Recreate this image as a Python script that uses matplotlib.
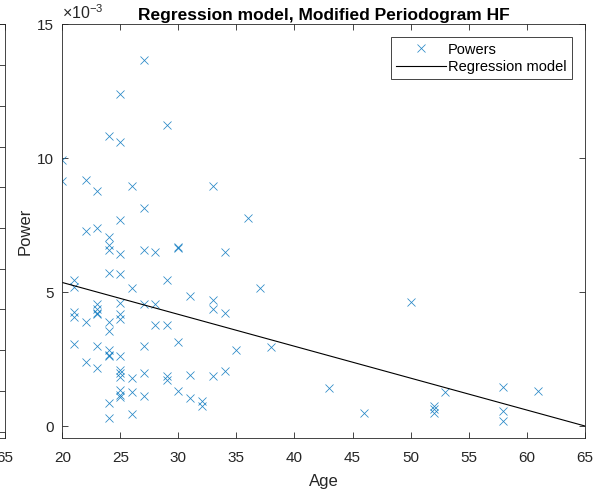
import matplotlib
matplotlib.use("Agg")
import matplotlib.pyplot as plt
from matplotlib.ticker import FuncFormatter, FixedLocator

plt.rcParams['font.family'] = ['Liberation Sans', 'DejaVu Sans']
plt.rcParams['mathtext.fontset'] = 'custom'
plt.rcParams['mathtext.rm'] = 'Liberation Sans'
plt.rcParams['mathtext.it'] = 'Liberation Sans'

# ---------------- data ----------------
ages = [27, 25, 29, 24, 25, 20, 20, 22, 23, 26, 33, 27, 36, 25, 22, 23, 24, 24, 24,
        25, 27, 28, 30, 30, 34, 24, 25, 29, 21, 21, 26, 37, 31, 33, 33, 34, 27, 28,
        25, 23, 23, 23, 23, 21, 21, 22, 24, 24, 25, 25, 28, 29, 21, 23, 27, 30, 35,
        38, 24, 24, 24, 25, 22, 23, 25, 25, 25, 26, 27, 29, 29, 31, 33, 34, 30, 31,
        32, 32, 25, 25, 25, 26, 27, 24, 24, 26, 43, 46, 50, 52, 52, 52, 53, 58, 58,
        58, 61]
powers = [13.66e-3, 12.39e-3, 11.23e-3, 10.82e-3, 10.60e-3, 9.93e-3, 9.14e-3, 9.18e-3,
          8.77e-3, 8.96e-3, 8.96e-3, 8.13e-3, 7.76e-3, 7.69e-3, 7.28e-3, 7.39e-3, 7.05e-3,
          6.75e-3, 6.57e-3, 6.42e-3, 6.60e-3, 6.50e-3, 6.68e-3, 6.64e-3, 6.50e-3, 5.74e-3,
          5.70e-3, 5.45e-3, 5.45e-3, 5.22e-3, 5.15e-3, 5.15e-3, 4.85e-3, 4.72e-3, 4.37e-3,
          4.22e-3, 4.55e-3, 4.55e-3, 4.60e-3, 4.58e-3, 4.40e-3, 4.25e-3, 4.18e-3, 4.28e-3,
          4.07e-3, 3.88e-3, 3.89e-3, 3.56e-3, 4.18e-3, 3.99e-3, 3.78e-3, 3.78e-3, 3.09e-3,
          2.99e-3, 3.02e-3, 3.14e-3, 2.84e-3, 2.95e-3, 2.86e-3, 2.68e-3, 2.61e-3, 2.62e-3,
          2.42e-3, 2.17e-3, 2.12e-3, 1.99e-3, 1.85e-3, 1.81e-3, 1.99e-3, 1.87e-3, 1.74e-3,
          1.91e-3, 1.87e-3, 2.07e-3, 1.33e-3, 1.05e-3, 0.96e-3, 0.76e-3, 1.37e-3, 1.19e-3,
          1.09e-3, 1.27e-3, 1.14e-3, 0.89e-3, 0.33e-3, 0.46e-3, 1.42e-3, 0.49e-3, 4.63e-3,
          0.75e-3, 0.67e-3, 0.52e-3, 1.27e-3, 1.46e-3, 0.56e-3, 0.19e-3, 1.31e-3]
reg_ages = [20, 65]
reg_powers = [5.37e-3, 0.02e-3]

x_ticks = [20, 25, 30, 35, 40, 45, 50, 55, 60, 65]
y_ticks = [0, 5e-3, 10e-3, 15e-3]
frag_y_ticks = [0, 1, 2, 3, 4, 5, 6, 7, 8, 9, 10]

title = "Regression model, Modified Periodogram HF"
xlabel = "Age"
ylabel = "Power"
legend_labels = ["Powers", "Regression model"]

# ---------------- style ----------------
W, H = 602, 495
DPI = 100
axcol = '#262626'
blue = '#0072BD'

fig = plt.figure(figsize=(W / DPI, H / DPI), dpi=DPI)

left_px, right_px, top_px, bot_px = 62.3, 584.7, 24.3, 438.0
fb = (H - bot_px) / H
fh = (bot_px - top_px) / H

# fragment of a neighbouring subplot on the left edge
frag_right = 4.5 / W
frag_w = 0.3
fax = fig.add_axes([frag_right - frag_w, fb, frag_w, fh])
fax.set_xlim(20, 65)
fax.set_ylim(-0.155, 10)
fax.set_xticks(x_ticks)
fax.set_yticks(frag_y_ticks)
fax.tick_params(direction='in', length=4, width=0.6, colors=axcol, labelsize=11,
                right=True, top=True, labelleft=False, pad=9)
for s in fax.spines.values():
    s.set_color(axcol)
    s.set_linewidth(0.6)

# main axes
ax = fig.add_axes([left_px / W, fb, (right_px - left_px) / W, fh])
ax.plot(ages, powers, linestyle='none', marker='x', color=blue, markersize=6,
        markeredgewidth=0.55, alpha=0.85, label=legend_labels[0])
ax.plot(reg_ages, reg_powers, color='black', linewidth=0.8, label=legend_labels[1])

ax.set_xlim(20, 65)
ax.set_ylim(-0.43e-3, 15e-3)
ax.xaxis.set_major_locator(FixedLocator(x_ticks))
ax.yaxis.set_major_locator(FixedLocator(y_ticks))
ax.yaxis.set_major_formatter(FuncFormatter(lambda v, p: f"{v * 1e3:g}"))
ax.tick_params(direction='in', length=4, width=0.6, colors=axcol, labelsize=11,
               right=True, top=True)
ax.tick_params(axis='x', pad=9)
ax.tick_params(axis='y', pad=6)
for s in ax.spines.values():
    s.set_color(axcol)
    s.set_linewidth(0.6)

ax.set_title(title, fontsize=12.5, fontweight='bold', color='black', pad=3)
ax.set_xlabel(xlabel, fontsize=12, color=axcol, labelpad=7)
ax.set_ylabel(ylabel, fontsize=12, color=axcol, labelpad=3)
ax.text(0.0, 1.006, r"$\times10^{-3}$", transform=ax.transAxes, fontsize=11.5,
        color=axcol, ha='left', va='bottom')

leg = ax.legend(loc='upper right', fontsize=10.5, handlelength=3.4, handletextpad=0.15,
                labelspacing=0.25, borderpad=0.35, borderaxespad=0.9,
                fancybox=False, framealpha=1, edgecolor=axcol)
leg.get_frame().set_linewidth(0.6)

fig.savefig("out.png", dpi=DPI)
